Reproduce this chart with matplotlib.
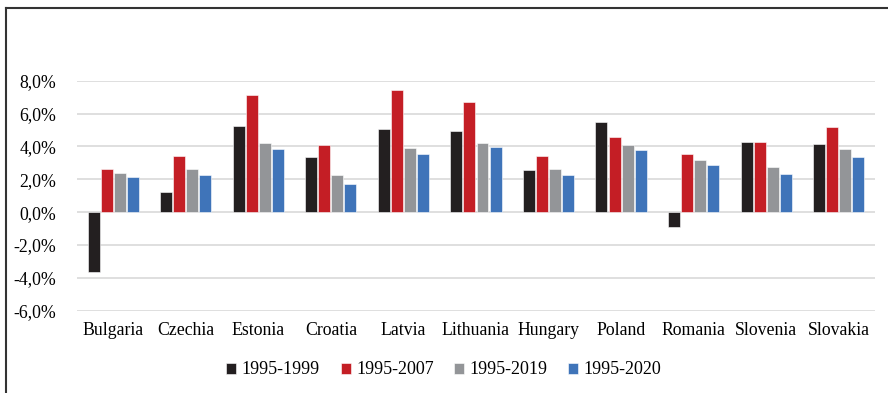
import matplotlib.pyplot as plt
import numpy as np
from matplotlib.lines import Line2D
from matplotlib.ticker import FuncFormatter

countries = ['Bulgaria', 'Czechia', 'Estonia', 'Croatia', 'Latvia', 'Lithuania',
             'Hungary', 'Poland', 'Romania', 'Slovenia', 'Slovakia']
periods = ['1995-1999', '1995-2007', '1995-2019', '1995-2020']

g_1995_1999 = [-3.62, 1.20, 5.25, 3.34, 5.08, 4.94, 2.57, 5.49, -0.91, 4.27, 4.15]
g_1995_2007 = [2.61, 3.40, 7.15, 4.11, 7.46, 6.69, 3.42, 4.60, 3.51, 4.27, 5.19]
g_1995_2019 = [2.39, 2.63, 4.19, 2.23, 3.93, 4.23, 2.63, 4.11, 3.18, 2.74, 3.83]
g_1995_2020 = [2.11, 2.23, 3.85, 1.74, 3.53, 3.97, 2.25, 3.81, 2.84, 2.31, 3.34]

series = [g_1995_1999, g_1995_2007, g_1995_2019, g_1995_2020]
colors = ['#231f20', '#c41e25', '#939598', '#3f74b9']

plt.rcParams['font.family'] = ['Liberation Serif', 'DejaVu Serif']

fig = plt.figure(figsize=(8.88, 3.93), dpi=100)
ax = fig.add_axes([0.0867, 0.2094, 0.8986, 0.5853])

x = np.arange(len(countries))
width = 0.165
step = 0.18
for i, (vals, col, lab) in enumerate(zip(series, colors, periods)):
    ax.bar(x + (i - 1.5) * step, vals, width, color=col, label=lab,
           edgecolor='white', linewidth=0.4, zorder=3)

ax.set_xlim(-0.5, len(countries) - 0.5)
ax.set_ylim(-6, 8)
ax.set_yticks(np.arange(-6, 9, 2))
ax.yaxis.set_major_formatter(FuncFormatter(lambda v, p: ('%.1f%%' % v).replace('.', ',')))
ax.set_xticks(x)
ax.set_xticklabels(countries)
ax.tick_params(axis='both', length=0, labelsize=12.8)
ax.tick_params(axis='y', pad=15)
ax.tick_params(axis='x', pad=8)
ax.grid(axis='y', color='#d9d9d9', linewidth=1.2, zorder=0)
for s in ax.spines.values():
    s.set_visible(False)

fig.legend(loc='center', bbox_to_anchor=(0.5, 23 / 393), ncol=4, frameon=False,
           fontsize=13, handlelength=0.55, handleheight=0.55, handletextpad=0.3,
           columnspacing=1.15)

# outer frame: top and left edges only
fig.add_artist(Line2D([6 / 888, 1], [1 - 8 / 393, 1 - 8 / 393], color='#333333', linewidth=1.5))
fig.add_artist(Line2D([6 / 888, 6 / 888], [0, 1 - 8 / 393], color='#333333', linewidth=1.5))

fig.savefig('out.png', dpi=100)
